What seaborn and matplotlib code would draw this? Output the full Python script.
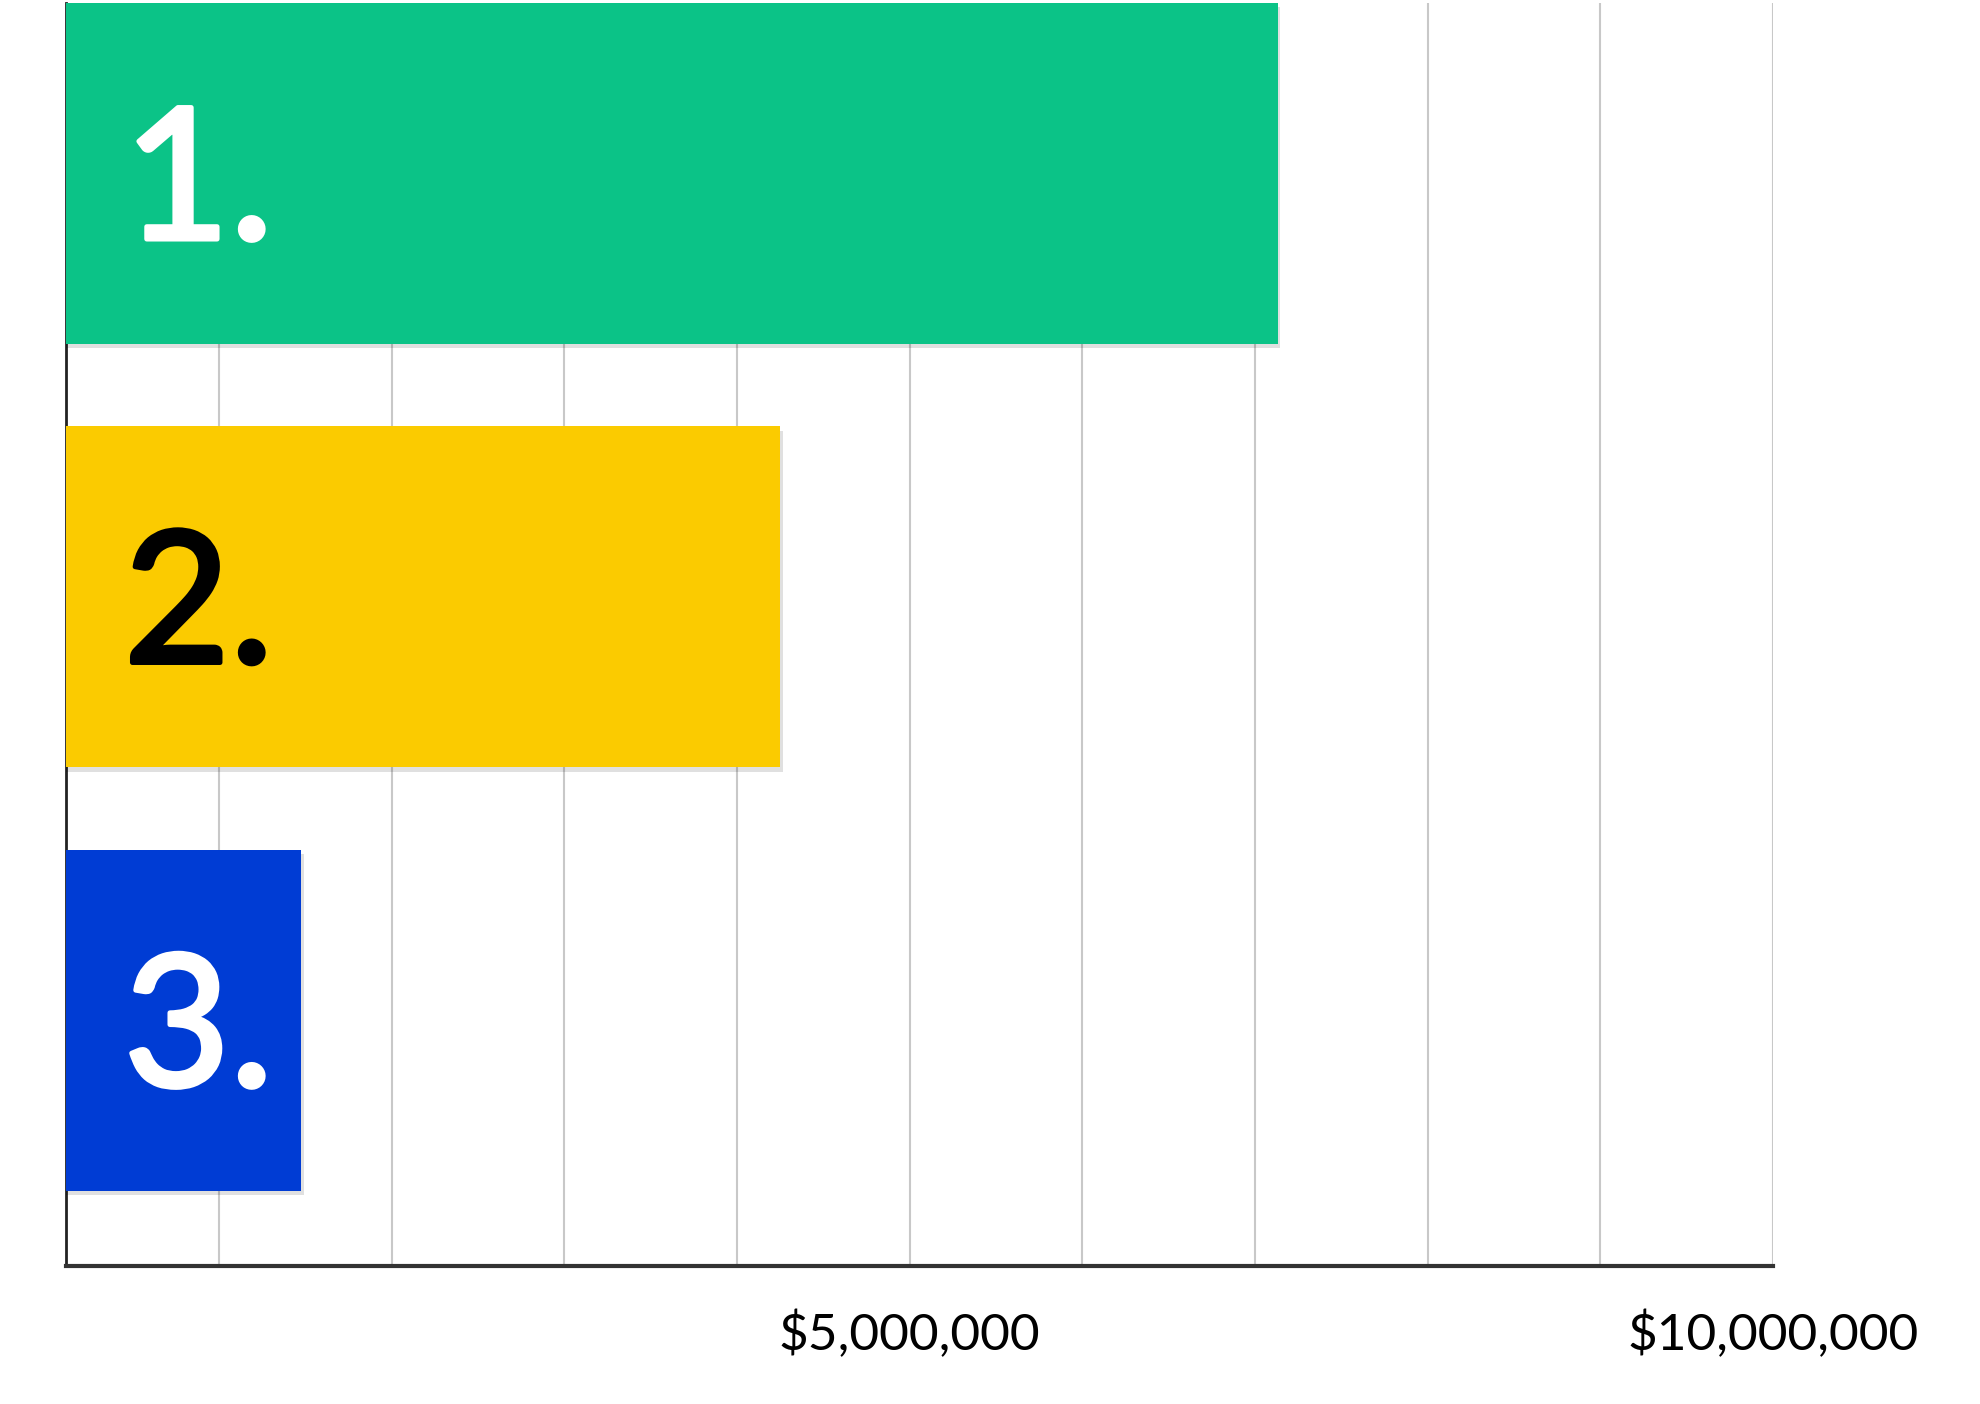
import matplotlib
matplotlib.use("Agg")
import matplotlib.pyplot as plt
import matplotlib.patheffects as pe
from matplotlib.ticker import FixedLocator, MultipleLocator
import seaborn as sns
import pandas as pd

# Chart data
ranks = ["1.", "2.", "3."]
values = [7130000, 4250000, 1475000]
bar_colors = ["#0BC387", "#FBCB00", "#003CD4"]
label_colors = ["white", "black", "white"]
tick_values = [5000000, 10000000]
tick_labels = ["$5,000,000", "$10,000,000"]

df = pd.DataFrame({"rank": ranks, "value": values})

sns.set_style("white")
plt.rcParams["font.family"] = ["Lato", "DejaVu Sans"]

fig = plt.figure(figsize=(19.8, 14.04), dpi=100)
ax = fig.add_axes([0.0332, 0.0983, 0.8623, 0.8997])

sns.barplot(data=df, x="value", y="rank", hue="rank", palette=bar_colors,
            orient="h", width=0.805, saturation=1, linewidth=0,
            legend=False, ax=ax, zorder=3)

# soft drop shadow under the bars
for patch in ax.patches:
    patch.set_edgecolor("none")
    patch.set_path_effects([pe.SimplePatchShadow(offset=(2, -3), shadow_rgbFace="black", alpha=0.12),
                            pe.Normal()])

# big rank numbers inside each bar (a thin stroke makes them a bit heavier)
for i, (r, c) in enumerate(zip(ranks, label_colors)):
    ax.text(0.034, i + 0.155, r, transform=ax.get_yaxis_transform(), ha="left", va="baseline",
            fontsize=132, color=c, zorder=4,
            path_effects=[pe.withStroke(linewidth=3.5, foreground=c)])

ax.set_xlim(112000, 10000000)
ax.set_ylim(2.58, -0.403)

ax.xaxis.set_major_locator(FixedLocator(tick_values))
ax.set_xticklabels(tick_labels)
ax.xaxis.set_minor_locator(MultipleLocator(1000000))
ax.grid(True, axis="x", which="both", color="#c8c8c8", linewidth=1.5, zorder=0)
ax.set_axisbelow(True)
ax.tick_params(axis="x", which="both", length=0, pad=32, labelsize=37, colors="black")
ax.tick_params(axis="y", left=False, labelleft=False)
ax.set_xlabel("")
ax.set_ylabel("")

for side in ["top", "right"]:
    ax.spines[side].set_visible(False)
ax.spines["left"].set_color("#222222")
ax.spines["left"].set_linewidth(2)
ax.spines["bottom"].set_color("#333333")
ax.spines["bottom"].set_linewidth(3)

fig.savefig("out.png", dpi=100)
plt.close(fig)
